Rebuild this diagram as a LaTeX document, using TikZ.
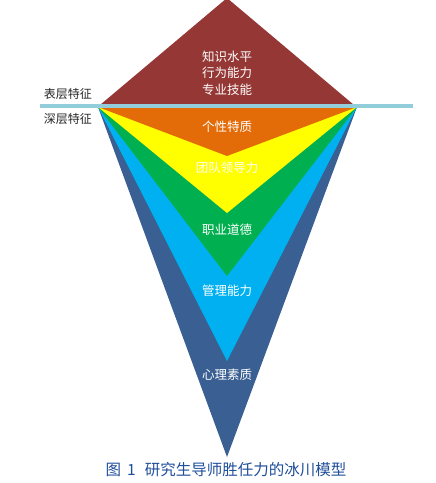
\documentclass[tikz,border=0pt]{standalone}
\usepackage{fontspec}
\setmainfont{Noto Sans CJK SC}
\definecolor{maroon}{HTML}{953735}
\definecolor{iorange}{HTML}{E36C09}
\definecolor{iyellow}{HTML}{FFFF00}
\definecolor{igreen}{HTML}{00B050}
\definecolor{icyan}{HTML}{00B0F0}
\definecolor{iblue}{HTML}{3A5F92}
\definecolor{iline}{HTML}{92CDDC}
\definecolor{capblue}{HTML}{1F4E9B}
\begin{document}
\begin{tikzpicture}[x=1pt,y=-1pt,
  lab/.style={text=white,font=\fontsize{12.5}{15}\selectfont,inner sep=0pt,align=center},
  side/.style={text=black!85,font=\fontsize{12}{15}\selectfont,inner sep=0pt}]
\useasboundingbox (0,0) rectangle (436,483);
\coordinate (L) at (98,107);
\coordinate (R) at (357,107);
\fill[iblue] (L) -- (R) -- (227,457) -- cycle;
\fill[icyan] (L) -- (R) -- (227,361) -- cycle;
\fill[igreen] (L) -- (R) -- (227,276) -- cycle;
\fill[iyellow] (L) -- (R) -- (227,213) -- cycle;
\fill[iorange] (L) -- (R) -- (227,156) -- cycle;
\fill[maroon] (100,105) -- (227,-2) -- (354,105) -- cycle;
\draw[iline,line width=4pt] (40,106) -- (413,106);
\node[lab] (t1) at (227,73) {知识水平\\[1.5pt]行为能力\\[1.5pt]专业技能};
\node[lab] (t2) at (227,127) {个性特质};
\node[lab] (t3) at (227,168) {团队领导力};
\node[lab] (t4) at (227,230) {职业道德};
\node[lab] (t5) at (227,291) {管理能力};
\node[lab] (t6) at (227,375) {心理素质};
\node[side] (s1) at (68,94) {表层特征};
\node[side] (s2) at (68,119) {深层特征};
\node[text=capblue,font=\fontsize{15.5}{18}\selectfont,inner sep=0pt] (cap) at (226,470) {图\hspace{6pt}1\hspace{9pt}研究生导师胜任力的冰川模型};
\end{tikzpicture}
\end{document}
